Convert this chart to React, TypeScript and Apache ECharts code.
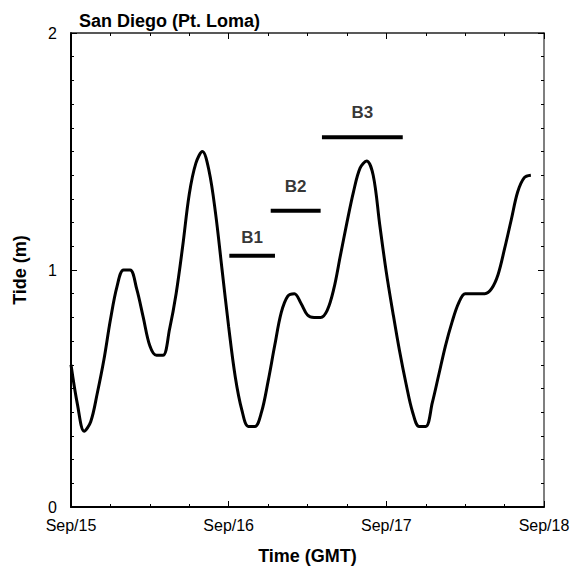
import React, { useEffect, useRef } from "react";
import * as echarts from "echarts";

// Hourly tide heights (m), starting Sep/15 00:00 GMT
const tide = [
  0.60, 0.43, 0.32, 0.36, 0.48, 0.62, 0.79, 0.93, 1.00, 1.00,
  0.92, 0.80, 0.68, 0.64, 0.64, 0.75, 0.90, 1.10, 1.32, 1.45,
  1.50, 1.42, 1.24, 1.00, 0.76, 0.55, 0.41, 0.34, 0.34, 0.40,
  0.53, 0.68, 0.82, 0.89, 0.90, 0.86, 0.81, 0.80, 0.80, 0.83,
  0.92, 1.06, 1.20, 1.33, 1.43, 1.46, 1.40, 1.19, 0.99, 0.82,
  0.66, 0.52, 0.40, 0.34, 0.34, 0.44, 0.56, 0.68, 0.78, 0.86,
  0.90, 0.90, 0.90, 0.90, 0.92, 0.98, 1.09, 1.21, 1.33, 1.39,
  1.40,
];

const dayLabels = ["Sep/15", "Sep/16", "Sep/17", "Sep/18"];
const yLabels = ["0", "1", "2"];

const burstNames = ["B1", "B2", "B3"];
const burstStart = [24.1, 30.4, 38.2];
const burstEnd = [31.05, 38.0, 50.5];
const burstLevel = [1.06, 1.25, 1.56];
const burstLabelGap = [10, 16, 16];

const FONT = "'Liberation Sans', Arial, Helvetica, sans-serif";

export default function App() {
  const ref = useRef<HTMLDivElement>(null);

  useEffect(() => {
    if (!ref.current) return;
    const chart = echarts.init(ref.current, undefined, { renderer: "svg" });

    const tickCommon = {
      axisTick: { show: true, inside: true, length: 6, lineStyle: { color: "#000", width: 1 } },
      minorTick: { show: true, length: 3, lineStyle: { color: "#000", width: 1 } },
      splitLine: { show: false },
      minorSplitLine: { show: false },
    };

    const burstSeries: any[] = [];
    burstNames.forEach((name, i) => {
      burstSeries.push({
        type: "line",
        name: name + "-bar",
        data: [
          [burstStart[i], burstLevel[i]],
          [burstEnd[i], burstLevel[i]],
        ],
        symbol: "none",
        lineStyle: { color: "#000", width: 4 },
        silent: true,
      });
      burstSeries.push({
        type: "scatter",
        name: name,
        data: [[(burstStart[i] + burstEnd[i]) / 2, burstLevel[i]]],
        symbolSize: 0,
        itemStyle: { color: "transparent" },
        label: {
          show: true,
          formatter: name,
          position: "top",
          distance: burstLabelGap[i],
          fontFamily: FONT,
          fontWeight: "bold",
          fontSize: 17,
          color: "#000",
        },
        silent: true,
      });
    });

    chart.setOption({
      animation: false,
      backgroundColor: "#fff",
      title: {
        text: "San Diego (Pt. Loma)",
        left: 74,
        top: 7,
        textStyle: { fontFamily: FONT, fontWeight: "bold", fontSize: 18, color: "#000" },
      },
      grid: { left: 71, top: 33, width: 473, height: 474 },
      xAxis: [
        {
          type: "value",
          position: "bottom",
          min: 0,
          max: 72,
          interval: 24,
          axisLine: { show: true, onZero: false, lineStyle: { color: "#000", width: 2 } },
          axisLabel: {
            margin: 10,
            fontFamily: FONT,
            fontSize: 16,
            color: "#000",
            formatter: (v: number) => dayLabels[Math.round(v / 24)] ?? "",
          },
          name: "Time (GMT)",
          nameLocation: "middle",
          nameGap: 40,
          nameTextStyle: { fontFamily: FONT, fontWeight: "bold", fontSize: 18, color: "#000" },
          ...tickCommon,
          minorTick: { ...tickCommon.minorTick, splitNumber: 4 },
        },
        {
          type: "value",
          position: "top",
          min: 0,
          max: 72,
          interval: 24,
          axisLine: { show: true, onZero: false, lineStyle: { color: "#222", width: 1.5 } },
          axisLabel: { show: false },
          ...tickCommon,
          minorTick: { ...tickCommon.minorTick, splitNumber: 4 },
        },
      ],
      yAxis: [
        {
          type: "value",
          position: "left",
          min: 0,
          max: 2,
          interval: 1,
          axisLine: { show: true, onZero: false, lineStyle: { color: "#000", width: 2 } },
          axisLabel: {
            margin: 14,
            fontFamily: FONT,
            fontSize: 16,
            color: "#000",
            formatter: (v: number) => yLabels[Math.round(v)] ?? "",
          },
          name: "Tide (m)",
          nameLocation: "middle",
          nameGap: 42,
          nameRotate: 90,
          nameTextStyle: { fontFamily: FONT, fontWeight: "bold", fontSize: 18, color: "#000" },
          ...tickCommon,
          minorTick: { ...tickCommon.minorTick, splitNumber: 10 },
        },
        {
          type: "value",
          position: "right",
          min: 0,
          max: 2,
          interval: 1,
          axisLine: { show: true, onZero: false, lineStyle: { color: "#555", width: 1.5 } },
          axisLabel: { show: false },
          ...tickCommon,
          minorTick: { ...tickCommon.minorTick, splitNumber: 10 },
        },
      ],
      series: [
        {
          type: "line",
          name: "Tide",
          data: tide.map((v, h) => [h, v]),
          symbol: "none",
          smooth: 0.35,
          lineStyle: { color: "#000", width: 3 },
          silent: true,
        },
        ...burstSeries,
      ],
    });

    return () => chart.dispose();
  }, []);

  return (
    <div
      ref={ref}
      style={{ position: "fixed", left: 0, top: 0, width: 581, height: 571, background: "#fff" }}
    />
  );
}
